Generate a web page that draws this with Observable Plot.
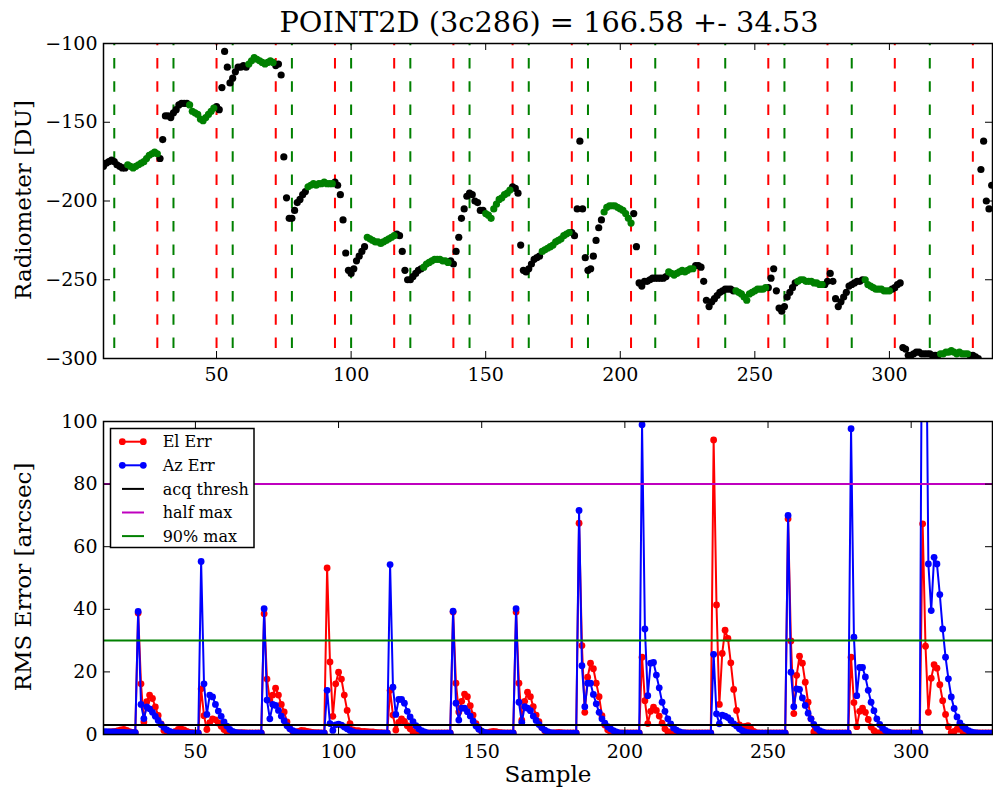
<!DOCTYPE html>
<html><head><meta charset="utf-8">
<script src="https://cdn.jsdelivr.net/npm/d3@7"></script>
<script src="https://cdn.jsdelivr.net/npm/@observablehq/plot@0.6"></script>
<style>
html,body{margin:0;padding:0;background:#fff;}
#wrap{position:relative;width:993px;height:793px;font-family:"DejaVu Serif";overflow:hidden;}
#wrap svg{position:absolute;left:0;}
</style></head>
<body><div id="wrap"></div>
<script>
// ---------- Data ----------
const titleText = "POINT2D (3c286) = 166.58 +- 34.53";
const radStart = 8;
const radiometer = [
  -178,-176,-175,-174,-175,-177,-178,-179,-179,
  -177,-178,-179,-178,-177,-176,-175,-173,-171,-170,-169,-170,
  -173,-161,-146,-146,-147,-144,-142,-139,-138,-138,-138,
  -139,-143,-144,-145,-148,-149,-147,-145,-143,-141,
  -140,-142,-128,-105,-115,-125,-122,-118,-115,-115,-114,-115,
  -113,-111,-109,-110,-111,-112,-113,-112,-111,-112,
  -114,-113,-120,-172,-198,-211,-211,-206,-201,-199,-196,-194,
  -191,-190,-189,-190,-189,-189,-188,-189,-189,-189,
  -188,-190,-196,-212,-233,-244,-246,-243,-238,-235,-232,-229,
  -223,-224,-225,-226,-226,-227,-226,-225,-224,-223,-222,
  -221,-222,-232,-244,-250,-250,-248,-246,-244,-243,
  -242,-240,-239,-238,-237,-237,-237,-238,-238,-239,
  -238,-240,-232,-223,-211,-205,-197,-195,-196,-200,-201,-206,-206,
  -208,-209,-211,-205,-202,-199,-198,-196,-195,-193,
  -191,-192,-195,-228,-244,-245,-243,-240,-237,-236,-235,
  -232,-231,-230,-229,-228,-226,-225,-224,-222,-221,-220,
  -220,-222,-205,-162,-205,-236,-244,-243,-235,-225,-217,-212,
  -207,-204,-203,-203,-203,-204,-205,-206,-208,-211,-214,
  -208,-229,-252,-254,-251,-251,-250,-249,-249,-249,-249,-249,-248,
  -245,-246,-247,-246,-245,-244,-245,-244,-243,-243,
  -241,-241,-242,-251,-263,-267,-264,-262,-260,-258,-257,-256,-256,-256,-257,
  -257,-258,-259,-261,-263,-259,-258,-257,-256,-256,-256,-255,
  -255,-249,-243,-257,-268,-270,-267,-261,-258,-255,-252,
  -251,-250,-250,-251,-251,-251,-252,-252,-253,-253,
  -253,-251,-246,-251,-262,-267,-264,-261,-258,-254,-253,-252,-251,-251,-250,
  -250,-253,-254,-255,-256,-256,-256,-257,-257,-257,
  -256,-255,-253,-252,-293,-294,-298,-298,-297,-296,-296,-297,-297,-297,-297,-298,-298,-298,
  -297,-297,-296,-296,-295,-296,-297,-296,-297,-297,-297,
  -298,-298,-299,-300,-180,-162,-200,-205,-190
];
const greenSpans = [[17,28],[40,49],[62,71],[84,93],[106,116],[127,136],[150,159],
  [171,181],[194,204],[218,227],[243,254],[266,275],[291,300],[319,329]];
const redLines = [28,50,72,94,116,138,160,182,204,229,255,277,302,331];
const greenLines = [12,34,56,78,100,122,144,166,188,213,239,261,286,315];

const errStart = 17;
const elErr = [
  0.8,0.7,0.7,0.8,0.9,1.0,1.2,1.5,1.6,1.3,0.9,0.7,0.6,
  38.8,16.2,4.0,10.5,12.6,11.5,8.8,6.1,3.4,1.3,0.8,0.6,0.7,1.0,1.6,1.8,1.5,1.0,0.7,0.6,0.5,0.5,
  14.6,6.0,1.6,3.8,5.0,4.7,3.7,2.6,1.6,0.9,0.6,0.5,0.5,0.6,0.6,0.6,0.5,0.5,0.5,0.5,0.5,0.5,
  38.6,17.7,11.0,12.6,14.8,12.6,9.6,7.2,4.0,1.9,1.0,0.8,1.0,1.3,1.2,1.0,0.8,0.7,0.6,0.6,0.5,0.5,
  53.2,23.2,5.8,16.2,19.9,17.7,12.6,7.7,3.5,1.5,1.2,1.2,1.0,1.0,0.9,0.8,0.8,0.7,0.6,0.6,0.5,0.5,
  14.1,6.2,1.4,3.9,5.0,4.2,2.8,1.8,0.8,0.5,0.5,0.5,0.5,0.5,0.5,0.5,0.5,0.5,0.5,0.5,0.5,0.5,
  39.1,16.4,7.2,10.6,12.9,12.1,9.2,6.2,3.5,1.8,0.9,0.6,0.6,0.8,1.0,0.9,0.7,0.6,0.5,0.5,0.5,0.5,
  39.1,16.4,4.6,10.6,13.5,12.1,8.9,6.2,4.1,2.2,1.2,0.6,0.5,0.5,0.6,0.7,0.6,0.5,0.5,0.5,0.5,0.5,
  67.5,28.4,7.1,18.3,22.8,21.0,16.4,12.1,6.0,3.0,1.5,0.8,0.6,0.5,0.5,0.5,0.5,0.5,0.5,0.5,0.5,0.5,
  24.7,10.8,3.5,7.4,8.7,7.7,5.9,3.6,1.8,0.9,0.6,0.5,0.5,0.5,0.5,0.5,0.5,0.5,0.5,0.5,0.5,0.5,0.5,0.5,0.5,
  94.1,41.4,9.6,25.9,33.3,30.7,22.9,14.4,7.7,3.1,2.4,2.6,2.8,1.8,1.0,0.6,0.5,0.5,0.5,0.5,0.5,0.5,0.5,0.5,0.5,0.5,
  68.9,29.9,6.7,18.9,25.0,22.8,16.7,10.3,5.0,0.8,0.5,0.5,0.5,0.5,0.5,0.5,0.5,0.5,0.5,0.5,0.5,0.5,
  24.7,10.2,2.5,7.4,8.4,7.1,4.8,2.4,1.2,0.6,0.5,0.5,0.5,0.5,0.5,0.5,0.5,0.5,0.5,0.5,0.5,0.5,0.5,0.5,0.5,
  67.3,28.2,7.1,18.0,22.3,21.2,15.9,10.8,6.4,2.5,0.7,1.0,1.7,1.7,1.0,0.5,0.5,0.5,0.5,0.5,0.5,0.5,0.5,0.5,0.5
];
const azErr = [
  1.0,0.9,0.9,0.8,0.8,0.8,0.7,0.7,0.7,0.6,0.6,0.6,0.6,
  39.3,9.6,5.1,8.8,8.2,7.1,5.8,4.5,3.2,2.3,1.5,1.0,0.7,0.5,0.5,0.4,0.4,0.4,0.4,0.4,0.4,0.4,
  55.3,16.2,6.4,12.6,12.0,9.6,7.5,5.8,4.0,2.7,1.6,1.0,0.7,0.5,0.5,0.4,0.4,0.4,0.4,0.4,0.4,0.4,
  40.2,11.0,5.0,9.6,9.3,7.7,5.9,4.4,2.8,1.8,1.2,0.8,0.5,0.5,0.4,0.4,0.4,0.4,0.4,0.4,0.4,0.4,
  14.1,3.5,1.3,3.1,3.3,3.0,2.4,1.8,1.3,0.9,0.6,0.5,0.4,0.4,0.4,0.4,0.4,0.4,0.4,0.4,0.4,0.4,
  54.3,15.1,6.4,11.2,11.2,10.0,7.4,5.6,4.1,2.8,1.8,1.2,0.8,0.5,0.4,0.4,0.4,0.4,0.4,0.4,0.4,0.4,
  39.4,10.0,4.6,8.4,8.4,7.3,5.9,4.3,2.7,1.7,1.1,0.7,0.5,0.4,0.4,0.4,0.4,0.4,0.4,0.4,0.4,0.4,
  40.2,10.3,3.9,8.9,8.4,7.6,5.9,4.5,3.2,2.2,1.4,0.9,0.6,0.5,0.4,0.4,0.4,0.4,0.4,0.4,0.4,0.4,
  71.6,22.0,8.9,16.4,16.4,12.8,9.8,7.1,5.0,3.6,2.5,1.8,1.2,0.8,0.5,0.4,0.4,0.4,0.4,0.4,0.4,0.4,
  99.0,33.7,12.4,22.8,23.0,19.0,14.9,10.3,7.4,5.0,3.4,2.1,1.4,0.9,0.6,0.5,0.4,0.4,0.4,0.4,0.4,0.4,0.4,0.4,0.4,
  25.6,6.6,3.4,6.2,5.9,5.4,4.5,3.4,2.7,1.8,1.2,0.8,0.6,0.5,0.4,0.4,0.4,0.4,0.4,0.4,0.4,0.4,0.4,0.4,0.4,0.4,
  70.0,19.9,8.9,14.6,14.4,11.7,9.3,6.8,5.0,3.2,2.0,1.2,0.8,0.5,0.4,0.4,0.4,0.4,0.4,0.4,0.4,0.4,
  97.7,31.1,12.4,21.4,21.4,18.4,14.1,10.3,7.6,5.0,3.2,2.1,1.3,0.8,0.5,0.4,0.4,0.4,0.4,0.4,0.4,0.4,0.4,0.4,0.4,
  180,160,54.5,39.6,56.6,54.5,44.7,33.7,24.7,17.8,12.0,8.3,5.6,3.7,2.6,1.8,1.2,0.8,0.6,0.5,0.4,0.4,0.4,0.4,0.4
];
const acqThresh = 3;
const halfMax = 80;
const ninetyMax = 30;

const xTicks = [50,100,150,200,250,300];
const topYTicks = [-300,-250,-200,-150,-100];
const botYTicks = [0,20,40,60,80,100];

const legendItems = [
  {label:"El Err", color:"#ff0000", marker:true},
  {label:"Az Err", color:"#0000ff", marker:true},
  {label:"acq thresh", color:"#000000", marker:false},
  {label:"half max", color:"#bf00bf", marker:false},
  {label:"90% max", color:"#008000", marker:false}
];

// ---------- Build ----------
const W = 993;
const wrap = document.getElementById("wrap");
const fmt = d3.format("d");
const GREEN = "#008000", RED = "#ff0000", BLUE = "#0000ff", MAG = "#bf00bf";

function tickMarks(xt, yt, fw, fh) {
  const L = 7;
  return [
    Plot.ruleX(xt, {x: d => d, insetTop: fh - L, stroke: "black", strokeWidth: 1}),
    Plot.ruleX(xt, {x: d => d, insetBottom: fh - L, stroke: "black", strokeWidth: 1}),
    Plot.ruleY(yt, {y: d => d, insetRight: fw - L, stroke: "black", strokeWidth: 1}),
    Plot.ruleY(yt, {y: d => d, insetLeft: fw - L, stroke: "black", strokeWidth: 1})
  ];
}

// Top plot
{
  const H = 395, mt = 43, mb = 37, ml = 103, mr = 1;
  const fh = H - mt - mb, fw = W - ml - mr;
  const pts = radiometer.map((v, i) => {
    const s = radStart + i;
    return {s, v, green: greenSpans.some(([a, b]) => s >= a && s <= b)};
  });
  const dash = {strokeWidth: 2, strokeDasharray: "10.5,12.8", strokeDashoffset: 8.3};
  const svg = Plot.plot({
    width: W, height: H, marginTop: mt, marginBottom: mb, marginLeft: ml, marginRight: mr,
    style: {fontFamily: "DejaVu Serif", fontSize: "19px", background: "transparent", color: "black", overflow: "visible"},
    x: {domain: [8, 338.3]},
    y: {domain: [-300, -100]},
    marks: [
      Plot.ruleX(redLines, {x: d => d, stroke: RED, ...dash}),
      Plot.ruleX(greenLines, {x: d => d, stroke: GREEN, ...dash}),
      Plot.dot(pts.filter(d => !d.green), {x: "s", y: "v", r: 3.6, fill: "black", stroke: "none", clip: true}),
      Plot.dot(pts.filter(d => d.green), {x: "s", y: "v", r: 3.6, fill: GREEN, stroke: "none", clip: true}),
      ...tickMarks(xTicks, topYTicks, fw, fh),
      Plot.frame({stroke: "black", strokeWidth: 1.5}),
      Plot.axisX({ticks: xTicks, tickSize: 0, tickPadding: 9, tickFormat: fmt, label: null}),
      Plot.axisY({ticks: topYTicks, tickSize: 0, tickPadding: 6, tickFormat: fmt, label: null})
    ]
  });
  svg.style.top = "0px";
  wrap.appendChild(svg);
}

// Bottom plot
{
  const top = 395;
  const H = 398, mt = 26, mb = 59, ml = 103, mr = 1;
  const fh = H - mt - mb, fw = W - ml - mr;
  const errs = elErr.map((v, i) => ({s: errStart + i, el: v, az: azErr[i]}));
  const svg = Plot.plot({
    width: W, height: H, marginTop: mt, marginBottom: mb, marginLeft: ml, marginRight: mr,
    style: {fontFamily: "DejaVu Serif", fontSize: "19px", background: "transparent", color: "black", overflow: "visible"},
    x: {domain: [17.9, 328.4]},
    y: {domain: [0, 100]},
    marks: [
      Plot.line(errs, {x: "s", y: "el", stroke: RED, strokeWidth: 2, clip: true}),
      Plot.dot(errs, {x: "s", y: "el", r: 3.4, fill: RED, stroke: "none", clip: true}),
      Plot.line(errs, {x: "s", y: "az", stroke: BLUE, strokeWidth: 2, clip: true}),
      Plot.dot(errs, {x: "s", y: "az", r: 3.4, fill: BLUE, stroke: "none", clip: true}),
      Plot.ruleY([acqThresh], {y: d => d, stroke: "black", strokeWidth: 2}),
      Plot.ruleY([halfMax], {y: d => d, stroke: MAG, strokeWidth: 2}),
      Plot.ruleY([ninetyMax], {y: d => d, stroke: GREEN, strokeWidth: 2}),
      ...tickMarks(xTicks, botYTicks, fw, fh),
      Plot.frame({stroke: "black", strokeWidth: 1.5}),
      Plot.axisX({ticks: xTicks, tickSize: 0, tickPadding: 10, tickFormat: fmt, label: null}),
      Plot.axisY({ticks: botYTicks, tickSize: 0, tickPadding: 6, tickFormat: fmt, label: null})
    ]
  });
  svg.style.top = top + "px";
  wrap.appendChild(svg);
}

// Overlay: title, axis labels, legend
{
  const ov = d3.create("svg").attr("width", W).attr("height", 793)
    .style("top", "0px").style("font-family", "DejaVu Serif");
  ov.append("text").attr("x", 549).attr("y", 32).attr("text-anchor", "middle")
    .attr("font-size", 28.8).text(titleText);
  ov.append("text").attr("transform", "translate(31,200) rotate(-90)").attr("text-anchor", "middle")
    .attr("font-size", 23).text("Radiometer [DU]");
  ov.append("text").attr("transform", "translate(31,577) rotate(-90)").attr("text-anchor", "middle")
    .attr("font-size", 23).text("RMS Error [arcsec]");
  ov.append("text").attr("x", 548).attr("y", 782).attr("text-anchor", "middle")
    .attr("font-size", 23).text("Sample");
  const lg = ov.append("g");
  lg.append("rect").attr("x", 110.5).attr("y", 428.5).attr("width", 143.5).attr("height", 119)
    .attr("fill", "white").attr("stroke", "black").attr("stroke-width", 1.5);
  legendItems.forEach((it, i) => {
    const y = 441.7 + i * 23.6;
    lg.append("line").attr("x1", 122).attr("x2", 144).attr("y1", y).attr("y2", y)
      .attr("stroke", it.color).attr("stroke-width", 2);
    if (it.marker) {
      lg.append("circle").attr("cx", 122.3).attr("cy", y).attr("r", 3.4).attr("fill", it.color);
      lg.append("circle").attr("cx", 143.3).attr("cy", y).attr("r", 3.4).attr("fill", it.color);
    }
    lg.append("text").attr("x", 162.7).attr("y", y).attr("dy", "0.35em").attr("font-size", 16).text(it.label);
  });
  wrap.appendChild(ov.node());
}
</script>
</body></html>
